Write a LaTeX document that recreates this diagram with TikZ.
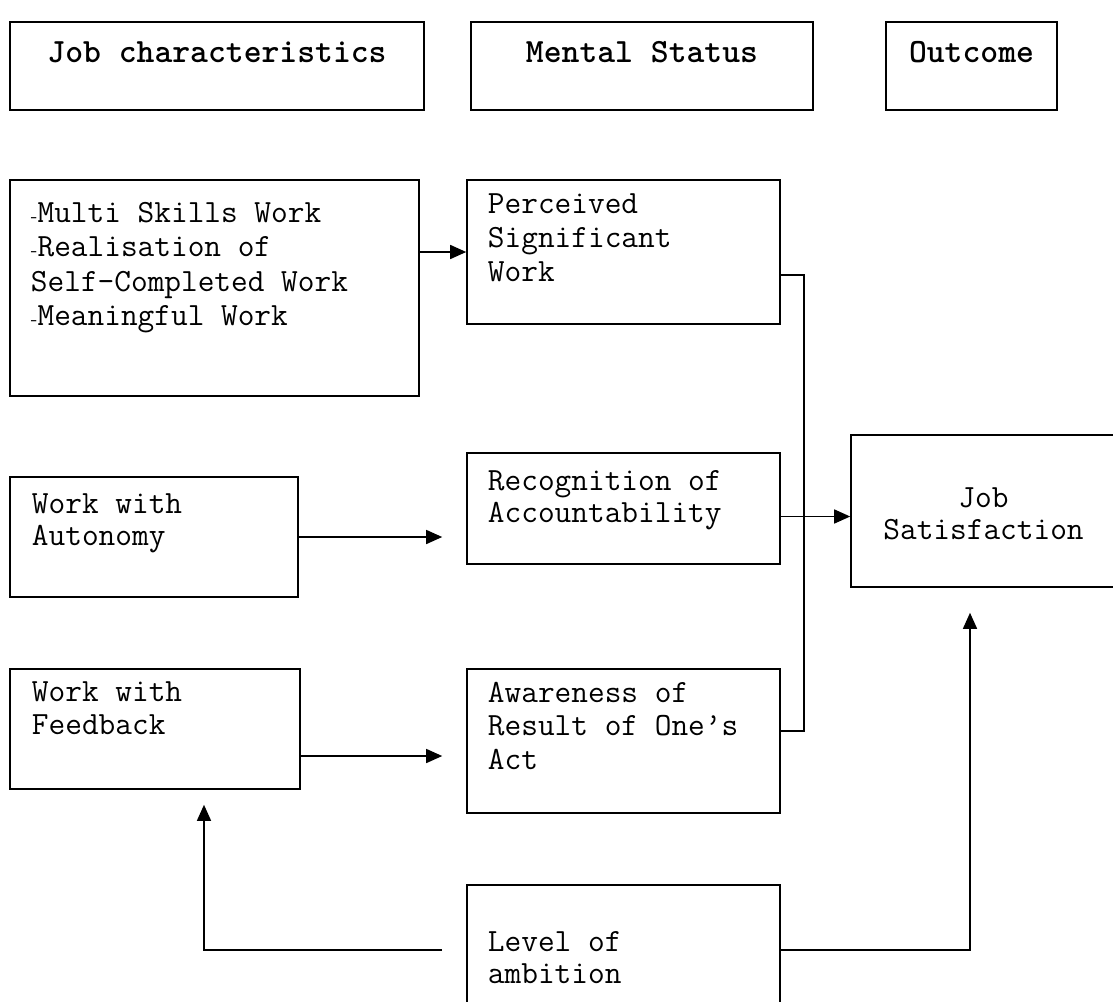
\documentclass[tikz,border=0pt]{standalone}
\usepackage{fontspec}
\usepackage{tikz}
\usetikzlibrary{arrows.meta}
\newcommand{\dsh}{{\rmfamily\fontsize{10}{10}\selectfont -}}
\newcommand{\tfs}[1]{\ttfamily\fontsize{16.2}{#1}\selectfont}

\begin{document}
\begin{tikzpicture}[x=0.5pt,y=-0.5pt,line width=0.75pt,
    box/.style={draw,line width=0.8pt,inner sep=0pt},
    txt/.style={anchor=north west,inner sep=0pt,align=left,font=\tfs{17}},
    head/.style={anchor=base,inner sep=0pt,font=\ttfamily\bfseries\fontsize{17}{18}\selectfont},
    arr/.style={-{Triangle[length=8pt,width=7pt]}}]
  \useasboundingbox (0,0) rectangle (1113,1001);
      \node[box,minimum width=207pt,minimum height=44pt] (hjob) at (217,66) {};
        \node[box,minimum width=171pt,minimum height=44pt] (hmen) at (642,66) {};
          \node[box,minimum width=85.5pt,minimum height=44pt] (hout) at (971.5,66) {};
      \node[head] (tjob) at ([yshift=-20.5pt]hjob.north) {Job characteristics};
        \node[head] (tmen) at ([yshift=-20.5pt]hmen.north) {Mental Status};
          \node[head] (tout) at ([yshift=-20.5pt]hout.north) {Outcome};
  \node[box,minimum width=204.5pt,minimum height=108pt] (bskill) at (214.5,288) {};
  \node[box,minimum width=144pt,minimum height=60pt] (baut) at (154,537) {};
  \node[box,minimum width=145pt,minimum height=60pt] (bfeed) at (155,729) {};
  \node[box,minimum width=156.5pt,minimum height=72pt] (bperc) at (623.5,252) {};
  \node[box,minimum width=156.5pt,minimum height=55.5pt] (brec) at (623.5,508.5) {};
  \node[box,minimum width=156.5pt,minimum height=72pt] (baware) at (623.5,741) {};
  \node[box,minimum width=156.5pt,minimum height=65pt] (blevel) at (623.5,950) {};
  \node[box,minimum width=132.5pt,minimum height=76pt] (bsat) at (983.5,511) {};
     \node[txt,font=\tfs{17.25}] (tskill) at ([shift={(10.5pt,-11pt)}]bskill.north west)
        {\dsh Multi Skills Work\\\dsh Realisation of\\Self-Completed Work\\\dsh Meaningful Work};
     \node[txt,font=\tfs{16}] (taut) at ([shift={(11pt,-8.5pt)}]baut.north west) {Work with\\Autonomy};
     \node[txt,font=\tfs{16.5}] (tfeed) at ([shift={(11pt,-6.5pt)}]bfeed.north west) {Work with\\Feedback};
     \node[txt] (tperc) at ([shift={(10.5pt,-7pt)}]bperc.north west) {Perceived\\Significant\\Work};
     \node[txt,font=\tfs{16}] (trec) at ([shift={(10.5pt,-9pt)}]brec.north west) {Recognition of\\Accountability};
     \node[txt,font=\tfs{16.75}] (taware) at ([shift={(10.5pt,-6.5pt)}]baware.north west) {Awareness of\\Result of One’s\\Act};
     \node[txt,font=\tfs{16}] (tlevel) at ([shift={(10.5pt,-23.5pt)}]blevel.north west) {Level of\\ambition};
     \node[txt,anchor=north,align=center,font=\tfs{16}] (tsat) at ([yshift=-26.5pt]bsat.north) {Job\\Satisfaction};
  \draw[arr] (bskill.east |- bperc.west) -- (bperc.west);
  \draw[arr,shorten >=12pt] (baut.east) -- (baut.east -| brec.west);
  \draw[arr,shorten >=12pt] ([yshift=-13.5pt]bfeed.east) -- ([yshift=-13.5pt]bfeed.east -| baware.west);
  \draw ([yshift=-11.5pt]bperc.east) -- ++(11.5pt,0) coordinate (bend) |- ([yshift=5pt]baware.east);
  \draw[arr] ([yshift=-4pt]brec.east) -- ([yshift=-4pt]brec.east -| bsat.west);
  \draw[arr,shorten >=7.5pt] ([xshift=-12pt]blevel.west) -| ([xshift=24.5pt]bfeed.south);
  \draw[arr,shorten >=12.5pt] (blevel.east) -| ([xshift=-6.75pt]bsat.south);
\end{tikzpicture}
\end{document}
